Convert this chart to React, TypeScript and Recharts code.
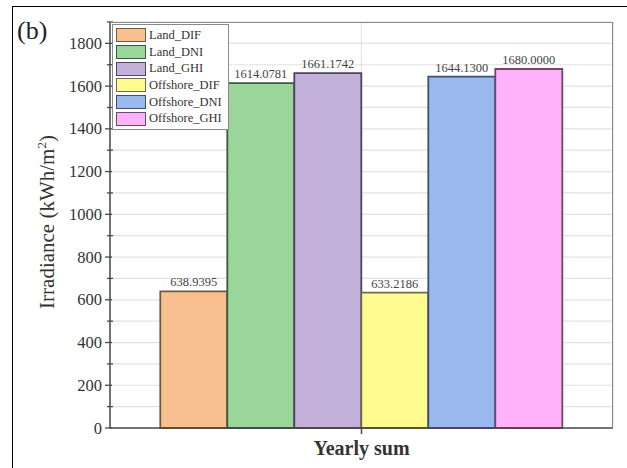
import React from "react";
import {
  Bar,
  BarChart,
  CartesianGrid,
  LabelList,
  XAxis,
  YAxis,
} from "recharts";

const categories = ["Yearly sum"];
const seriesNames = [
  "Land_DIF",
  "Land_DNI",
  "Land_GHI",
  "Offshore_DIF",
  "Offshore_DNI",
  "Offshore_GHI",
];
const seriesValues = [638.9395, 1614.0781, 1661.1742, 633.2186, 1644.13, 1680.0];
const fills = ["#f9c08f", "#9ad69a", "#c3b1d9", "#fffb8e", "#99b9ef", "#ffb1f9"];
const strokes = ["#6e5b45", "#3a5a40", "#4d4560", "#6d6b50", "#3f4f70", "#6a4a68"];
const yTicks = [
  0, 100, 200, 300, 400, 500, 600, 700, 800, 900, 1000, 1100, 1200, 1300, 1400,
  1500, 1600, 1700, 1800, 1900,
];
const yLabelTicks = [0, 200, 400, 600, 800, 1000, 1200, 1400, 1600, 1800];

const data = categories.map((c) => {
  const row: Record<string, string | number> = { name: c };
  seriesNames.forEach((s, i) => {
    row[s] = seriesValues[i];
  });
  return row;
});

const FONT = "'Liberation Serif', 'Times New Roman', serif";
const AXIS = "#4a4a4a";

function YTick(props: any) {
  const { x, y, payload } = props;
  const major = yLabelTicks.includes(payload.value);
  return (
    <g>
      <line
        x1={major ? x - 5 : x - 3}
        x2={major ? x + 2 : x + 3}
        y1={y}
        y2={y}
        stroke={AXIS}
        strokeWidth={1.3}
      />
      {major && (
        <text
          x={x - 8}
          y={y}
          dy={5.5}
          textAnchor="end"
          fontSize={16.5}
          fontFamily={FONT}
          fill="#333"
        >
          {payload.value}
        </text>
      )}
    </g>
  );
}

function LegendBox() {
  return (
    <div
      style={{
        position: "absolute",
        left: 112,
        top: 24,
        zIndex: 3,
        border: "1.5px solid #8a8a8a",
        background: "#fff",
        padding: "2px 2px 2px 3px",
        fontFamily: FONT,
        fontSize: 12.5,
        color: "#333",
        width: 117,
        boxSizing: "border-box",
        overflow: "hidden",
      }}
    >
      {seriesNames.map((s, i) => (
        <div
          key={s}
          style={{ display: "flex", alignItems: "center", height: 16.7 }}
        >
          <span
            style={{
              display: "inline-block",
              width: 28,
              height: 12,
              background: fills[i],
              border: `1.5px solid ${strokes[i]}`,
              marginRight: 3,
              flexShrink: 0,
            }}
          />
          <span style={{ whiteSpace: "nowrap" }}>{s}</span>
        </div>
      ))}
    </div>
  );
}

export default function App() {
  return (
    <div
      style={{
        position: "absolute",
        left: 0,
        top: 0,
        width: 627,
        height: 468,
        background: "#fff",
        fontFamily: FONT,
      }}
    >
      <div
        style={{
          position: "absolute",
          left: 12,
          top: 6,
          right: 0,
          bottom: 0,
          borderLeft: "1.5px solid #000",
          borderTop: "1.5px solid #000",
        }}
      />
      <div
        style={{
          position: "absolute",
          left: 17,
          top: 16,
          fontSize: 26,
          fontFamily: FONT,
          color: "#222",
        }}
      >
        (b)
      </div>
      <div
        style={{
          position: "absolute",
          left: 110,
          top: 22,
          width: 503,
          height: 406,
          borderTop: "1.5px solid #888",
          borderRight: "1.5px solid #888",
          boxSizing: "border-box",
          pointerEvents: "none",
          zIndex: 2,
        }}
      />
      <div
        style={{
          position: "absolute",
          left: 47,
          top: 222,
          transform: "translate(-50%, -50%) rotate(-90deg)",
          fontSize: 21,
          fontFamily: FONT,
          color: "#333",
          whiteSpace: "nowrap",
          zIndex: 2,
        }}
      >
        Irradiance (kWh/m<sup style={{ fontSize: 13 }}>2</sup>)
      </div>
      <LegendBox />
      <BarChart
        width={627}
        height={468}
        data={data}
        margin={{ top: 22, right: 14, bottom: 10, left: 50 }}
        barCategoryGap="10%"
        barGap={0}
      >
        <CartesianGrid stroke="#e2e2e2" strokeWidth={1.2} />
        <XAxis
          dataKey="name"
          height={30}
          tickSize={6}
          tickMargin={7}
          stroke={AXIS}
          strokeWidth={1.5}
          tick={{ fontSize: 20, fontWeight: "bold", fill: "#333", fontFamily: FONT }}
        />
        <YAxis
          width={60}
          domain={[0, 1900]}
          ticks={yTicks}
          interval={0}
          tickSize={0}
          tickMargin={0}
          stroke={AXIS}
          strokeWidth={1.5}
          tick={<YTick />}
        />
        {seriesNames.map((s, i) => (
          <Bar
            key={s}
            dataKey={s}
            fill={fills[i]}
            stroke={strokes[i]}
            strokeWidth={1.8}
            isAnimationActive={false}
          >
            <LabelList
              dataKey={s}
              position="top"
              offset={5}
              formatter={(v: any) => Number(v).toFixed(4)}
              style={{ fontSize: 12.5, fill: "#444", fontFamily: FONT }}
            />
          </Bar>
        ))}
      </BarChart>
    </div>
  );
}
